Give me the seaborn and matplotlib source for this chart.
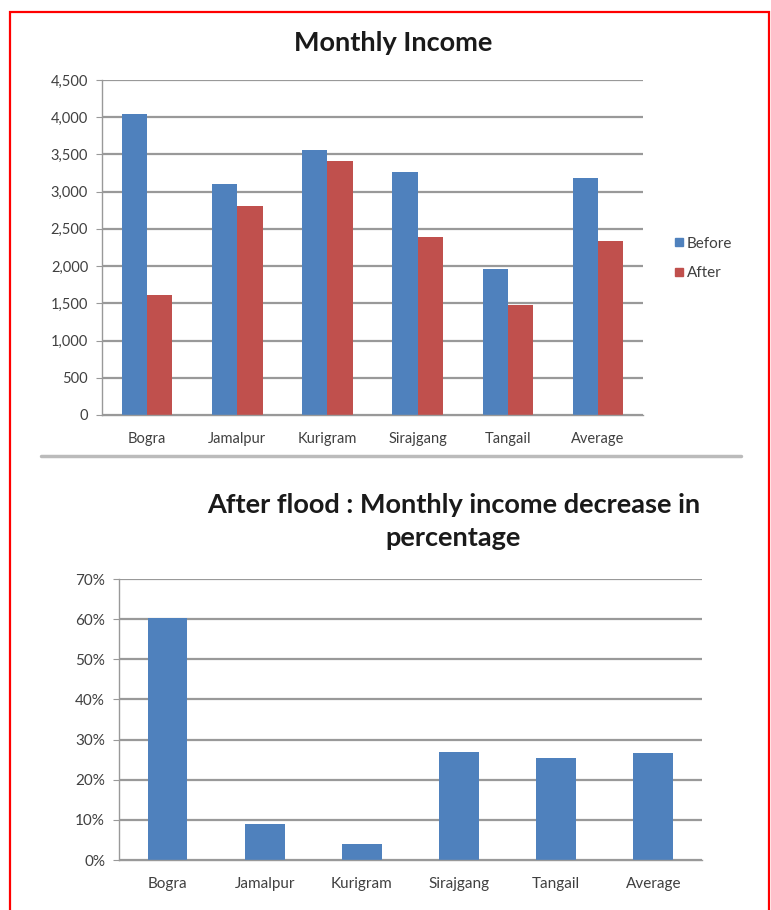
import numpy as np
import pandas as pd
import matplotlib
matplotlib.use('Agg')
import matplotlib.pyplot as plt
import seaborn as sns
from matplotlib.patches import Rectangle
from matplotlib.lines import Line2D
from matplotlib.ticker import FuncFormatter, MultipleLocator, FixedLocator

# ========================
# DATA
# ========================
districts = ['Bogra', 'Jamalpur', 'Kurigram', 'Sirajgang', 'Tangail', 'Average']
income_before = [4045, 3105, 3560, 3260, 1960, 3190]
income_after = [1605, 2810, 3410, 2390, 1480, 2340]
decrease_pct = [60.3, 8.9, 4.0, 26.8, 25.5, 26.6]

BLUE = '#4F81BD'
RED = '#C0504D'
GRID = '#999999'
TXT = '#404040'

sns.set_style('white')
plt.rcParams['font.family'] = ['Lato', 'DejaVu Sans']

income_df = pd.DataFrame({
    'district': districts * 2,
    'income': income_before + income_after,
    'period': ['Before'] * len(districts) + ['After'] * len(districts),
})
pct_df = pd.DataFrame({'district': districts, 'pct': decrease_pct})

fig = plt.figure(figsize=(7.71, 9.10), dpi=100)


def style_axes(ax):
    for side in ['top', 'right']:
        ax.spines[side].set_visible(False)
    for side in ['left', 'bottom']:
        ax.spines[side].set_color(GRID)
        ax.spines[side].set_linewidth(1.0)
    ax.yaxis.grid(True, color=GRID, linewidth=1.6)
    ax.xaxis.grid(False)
    ax.set_axisbelow(True)
    ax.set_xlabel('')
    ax.set_ylabel('')
    ax.set_xlim(-0.5, len(districts) - 0.5)
    ax.xaxis.set_minor_locator(FixedLocator(np.arange(-0.5, len(districts), 1.0)))
    ax.tick_params(axis='x', which='major', length=0, pad=12, labelsize=10.5, labelcolor=TXT)
    ax.tick_params(axis='x', which='minor', length=4, color=GRID, direction='out')
    ax.tick_params(axis='y', length=4, color=GRID, direction='out', labelsize=10.5,
                   labelcolor=TXT, left=True, pad=6)


# ========================
# MONTHLY INCOME
# ========================
ax1 = fig.add_axes([0.1323, 0.5440, 0.7017, 0.3681])
sns.barplot(data=income_df, x='district', y='income', hue='period',
            palette=[BLUE, RED], width=0.56, saturation=1, linewidth=0, ax=ax1)
style_axes(ax1)
ax1.set_ylim(0, 4500)
ax1.yaxis.set_major_locator(MultipleLocator(500))
ax1.yaxis.set_major_formatter(FuncFormatter(lambda v, p: f'{int(v):,}'))
ax1.legend_.remove()
handles = [Line2D([], [], marker='s', linestyle='', color=c, markersize=6)
           for c in [BLUE, RED]]
fig.legend(handles, ['Before', 'After'], loc='center left',
           bbox_to_anchor=(0.855, 0.716), frameon=False, fontsize=11,
           labelcolor=TXT, handletextpad=0.1, labelspacing=1.0,
           handlelength=0.8)
fig.text(0.51, 0.953, 'Monthly Income', ha='center', va='center',
         fontsize=19.5, fontweight='bold', color='#1a1a1a')

# ========================
# DECREASE IN PERCENTAGE
# ========================
ax2 = fig.add_axes([0.1543, 0.0549, 0.7562, 0.3088])
sns.barplot(data=pct_df, x='district', y='pct', color=BLUE, width=0.41,
            saturation=1, linewidth=0, ax=ax2)
style_axes(ax2)
ax2.set_ylim(0, 70)
ax2.yaxis.set_major_locator(MultipleLocator(10))
ax2.yaxis.set_major_formatter(FuncFormatter(lambda v, p: f'{int(v)}%'))
ax2.tick_params(axis='x', which='major', labelsize=11)
ax2.tick_params(axis='y', labelsize=11)
fig.text(0.588, 0.427, 'After flood : Monthly income decrease in\npercentage',
         ha='center', va='center', fontsize=19.5, fontweight='bold',
         color='#1a1a1a', linespacing=1.45)

# ========================
# FRAME & SEPARATOR
# ========================
fig.add_artist(Line2D([41 / 771, 741 / 771], [1 - 456 / 910] * 2,
                      color='#BBBBBB', linewidth=2.5))
fig.add_artist(Rectangle((10 / 771, -0.05), 759 / 771, 1.05 - 12 / 910,
                         fill=False, edgecolor='red', linewidth=1.6))

fig.savefig('out.png', dpi=100)
plt.close(fig)
